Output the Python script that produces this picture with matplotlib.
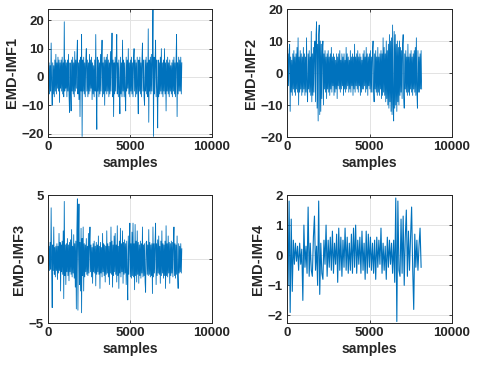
import numpy as np
import matplotlib
matplotlib.use("Agg")
import matplotlib.pyplot as plt

plt.rcParams['font.family'] = ['Liberation Sans', 'DejaVu Sans']
plt.rcParams['path.simplify'] = False

step_fine = 32   # samples between stored values (IMF1-3)
step_imf4 = 64   # samples between stored values (IMF4)

imf1 = [1, -4, 5, -6, 4, -5, 12, -3, -10, 5, -6, 4, -7, 6, -5, 8,
        -6, 5, -4, 7, -5, 6, -9, 5, -4, 6, -5, 7, -6, 5, -7, 19.5,
        -5, 6, -4, 5, -7, 6, -5, 8, -6, -12.5, 5, -4, -12, 6, -5, 7,
        -6, 5, -7, 9, -5, 6, -4, 7, 13, -6, 5, -8, 6, -14, 7, -5,
        15, -21, 6, -5, 7, -6, 5, -7, 6, 10, -5, 6, -7, 5, -6, 8,
        -5, 6, -4, 7, -8, 5, -6, 4, -7, 6, -5, 15, -6, -18.5, 7, -5,
        6, -7, 5, -6, 8, -5, 6, 13, -7, 5, -6, 7, -10, 6, -5, 7,
        -6, 8, -5, 6, -7, 5, -6, 9, -5, 6, 15.5, -7, 6, -14, 5, -6,
        7, -5, 6, 15, -6, 5, -7, 6, -5, -13, 7, -6, 5, -7, 13, -5,
        6, -7, 5, -6, -12, 7, -5, 6, -4, 10, -6, 5, -7, 6, -5, 7,
        -6, 5, -7, 6, 10, -5, 6, -7, 5, -6, 7, -5, -13, 6, -5, 7,
        -6, 5, -7, 6, 12, -5, 6, -7, -10, 6, -5, 7, -6, 5, -7, 17,
        -16, 6, -5, 7, -6, 8, -5, 6, 24, -21, 7, -6, 5, 13, -7, 6,
        -5, -18, 6, -7, 5, -6, 7, -5, 10, -6, 5, -7, 6, -5, 10, -6,
        5, -12, 6, -5, 7, -6, 5, -7, 6, -5, 4, -6, 5, -7, 6, -5,
        7, -6, 5, -7, 6, 15, -14, 5, -6, 7, -5, 6, -5, 7, -6, 5]

imf2 = [2, -5, 6, -4, 7, 9, -12, 5, -6, 4, -7, 6, -5, 7, -6, 5,
        -7, 6, -5, 8, -6, 11, -10, 5, -6, 7, -5, 6, -7, 5, -6, 8,
        -5, 6, -7, 5, -6, 11, -5, -9, 6, -5, 7, -6, 5, -7, 13, -9,
        6, -7, 8, -6, 7, 10, -9, 12, 16, -11, 9, -15, 12, 15, -13, 10,
        -12, 9, -8, 7, 10, -10, 6, -5, 7, -6, 5, -8, 6, -5, 7, -6,
        5, -7, 6, -5, 8, -6, 5, -4, 6, -7, 5, -6, 4, -5, 6, -8,
        5, -4, 6, -5, 7, -6, 4, -5, 6, -4, 5, -7, 6, -5, 4, -6,
        8, -5, 6, -4, 5, -6, 4, -5, 7, -6, 5, -4, 6, -7, 5, -5,
        9, -6, 5, -4, 6, -5, 7, -6, 5, -4, 6, -7, 5, -6, 4, -5,
        6, -5, 7, -4, 5, -6, 8, -5, 6, -7, 5, -4, 6, -5, 7, -6,
        5, -6, 7, 10, -5, -9, 6, -5, 7, -6, 5, -7, 8, -6, 5, -7,
        6, -5, 7, -8, 6, -7, 11, -6, 8, -7, 6, -9, 10, -8, 7, -10,
        9, -11, 12, -9, 10, -12, 11, -13, 15, -10, -15, 13, -11, 12, -10, 9,
        -12, 10, -9, 8, -10, 10, -7, 8, -6, 7, -8, 9, 12, -7, -11, 6,
        -5, 7, -6, 5, -7, 9, -6, 5, -7, 6, -5, 7, -6, 5, -7, 6,
        -5, 7, -6, 8, -7, 11, -6, -11, 7, -6, 5, -6, 6, -5, 7, -5]

imf3 = [0.3, -0.8, 1.0, -0.9, 1.3, -0.8, 4.0, -1.0, -3.8, 1.1, -0.9, 2.5, -1.2, 0.9, -1.4, 1.0,
        -0.9, 1.2, -1.6, 1.0, -1.1, 2.0, -0.9, 1.3, -2.5, 1.1, -1.0, 1.4, -1.2, 2.2, -3.1, 4.5,
        -1.3, 1.1, -2.0, 1.2, -1.0, 1.6, -1.3, 1.1, -1.7, 1.3, -1.0, 1.5, -1.2, 2.3, -1.4, 1.0,
        -1.1, 1.9, -1.5, 1.2, -2.2, 1.4, -3.9, 2.2, 4.7, -4.0, 1.6, 4.3, -2.0, 1.3, -2.5, 2.4,
        -4.2, 1.6, -1.3, 2.5, -2.5, 1.2, -1.4, 1.1, -1.0, 1.6, -1.2, 1.0, -1.3, 2.0, -1.1, 1.2,
        2.5, -1.0, 1.1, -1.4, 0.9, -1.9, 1.2, -1.0, 1.4, -1.1, 1.0, -2.1, 1.3, -1.2, 1.1, -1.0,
        1.8, -1.2, 1.0, -2.3, 1.3, -1.1, 0.9, -1.4, 2.0, -1.0, 1.2, -1.3, 1.1, -1.8, 1.0, -1.2,
        2.2, -1.1, 1.2, -1.4, 1.0, -2.0, 1.3, -1.1, 2.5, -1.2, 1.4, -2.2, 1.1, -1.3, 1.8, -1.0,
        2.0, -1.2, 1.1, -1.8, 2.6, -1.3, 1.0, -2.3, 1.4, -1.1, 2.4, -1.4, 1.2, -1.0, 2.2, -1.9,
        1.3, -1.2, 1.5, -1.1, 1.2, -2.0, 1.4, -1.3, -3.2, 1.8, -1.2, 1.3, 2.8, -1.4, 1.2, -1.5,
        2.1, -1.3, 2.8, -1.4, 1.2, -2.4, 2.7, -1.3, 1.4, -1.8, 2.2, -1.2, 1.3, -1.9, 1.1, -1.3,
        1.4, -1.5, 1.2, -1.1, 2.5, -1.4, 1.1, -1.3, 1.2, -1.8, -2.6, 1.3, 1.4, -1.2, 1.1, -1.3,
        2.3, -1.2, 1.3, -1.4, 1.1, -1.3, 1.2, -2.7, 2.5, -1.4, 1.2, -1.1, 1.3, 2.8, -2.0, 1.2,
        -1.3, 1.5, -1.1, 1.8, -1.2, 1.0, -1.9, 1.4, -1.3, 2.2, -1.1, 1.2, -1.5, 1.1, -1.3, 1.4,
        -2.3, 2.6, -1.3, 1.2, -1.4, 1.8, -1.1, 1.3, -1.9, 1.2, -1.3, 1.4, -1.1, 1.3, -1.4, 1.2,
        2.5, -1.3, 1.2, -1.5, 1.1, -1.2, 1.8, -1.3, -2.3, 1.2, -1.1, 1.0, -1.0, 1.2, -1.1, 0.8]

imf4 = [0.0, -1.0, 1.8, -1.9, 1.2, -1.2, 0.5, -0.3,
        0.4, -0.2, 0.3, -0.5, 0.4, -0.3, 0.2, -1.5,
        1.0, -0.4, 0.3, -0.6, 1.6, -0.7, 0.4, -0.5,
        -0.7, 0.6, 1.3, -0.5, 0.3, -1.0, 1.8, -1.3,
        0.4, -0.6, -0.8, 0.5, -0.3, 1.0, -0.7, 0.5,
        -0.4, 0.6, -0.5, 0.8, -0.6, 0.4, -0.3, 0.7,
        -0.9, 0.9, -0.5, 0.6, -0.7, 0.5, -0.4, 0.9,
        -0.5, 0.6, -0.6, 0.4, -0.5, 0.7, -0.6, 0.9,
        -0.4, 1.0, -0.6, 0.5, -0.3, 0.6, -0.6, 0.8,
        -0.5, 0.4, -0.8, 0.8, -0.6, 0.7, -0.4, 0.6,
        -0.5, 0.4, -0.6, 0.5, -0.8, 0.6, -0.4, 0.5,
        -0.3, 0.9, -0.6, 0.4, -0.5, 0.3, -0.8, 0.6,
        -0.4, 0.5, -0.3, 0.4, -0.6, 0.5, -0.9, 1.9,
        -2.2, 1.8, -0.5, -0.7, 1.2, -0.6, 1.3, -1.0,
        0.6, 1.5, -0.7, 0.8, -0.5, 0.6, 1.6, -0.4,
        -1.8, 0.7, -0.4, 0.5, -0.5, 0.3, 0.9, -0.4]

labels = ["EMD-IMF1", "EMD-IMF2", "EMD-IMF3", "EMD-IMF4"]
series = [imf1, imf2, imf3, imf4]
steps = [step_fine, step_fine, step_fine, step_imf4]
ylims = [(-21.2, 24), (-20, 20), (-5, 5), (-2.25, 2.0)]
yticks = [[-20, -10, 0, 10, 20], [-20, -10, 0, 10, 20], [-5, 0, 5], [-2, -1, 0, 1, 2]]
xticks = [0, 5000, 10000]
linewidths = [0.6, 0.6, 0.6, 0.8]

positions = [
    [48/480, 1-137/372, 164/480, 128/372],
    [287/480, 1-137/372, 165/480, 128/372],
    [48/480, 1-323/372, 164/480, 128/372],
    [287/480, 1-323/372, 165/480, 128/372],
]

fig = plt.figure(figsize=(4.8, 3.72), dpi=100)
for pos, lab, s, st, yl, yt, lw in zip(positions, labels, series, steps, ylims, yticks, linewidths):
    ax = fig.add_axes(pos)
    y = np.array(s, dtype=float)
    x = np.arange(len(y)) * st
    ax.plot(x, y, color='#0072BD', lw=lw)
    ax.set_xlim(0, 10000)
    ax.set_ylim(*yl)
    ax.set_xticks(xticks)
    ax.set_yticks(yt)
    ax.grid(True, color='#e3e3e3', lw=0.7)
    ax.set_axisbelow(True)
    for sp in ax.spines.values():
        sp.set_color('#262626')
        sp.set_linewidth(0.7)
    ax.tick_params(direction='in', length=2.5, width=0.6, colors='#262626',
                   labelsize=9.5, top=True, right=True, pad=3)
    for t in ax.get_xticklabels() + ax.get_yticklabels():
        t.set_fontweight('bold')
    ax.set_xlabel('samples', fontsize=10, fontweight='bold', color='#262626', labelpad=2)
    ax.set_ylabel(lab, fontsize=10.5, fontweight='bold', color='#262626', labelpad=2)

fig.savefig('out.png', dpi=100)
